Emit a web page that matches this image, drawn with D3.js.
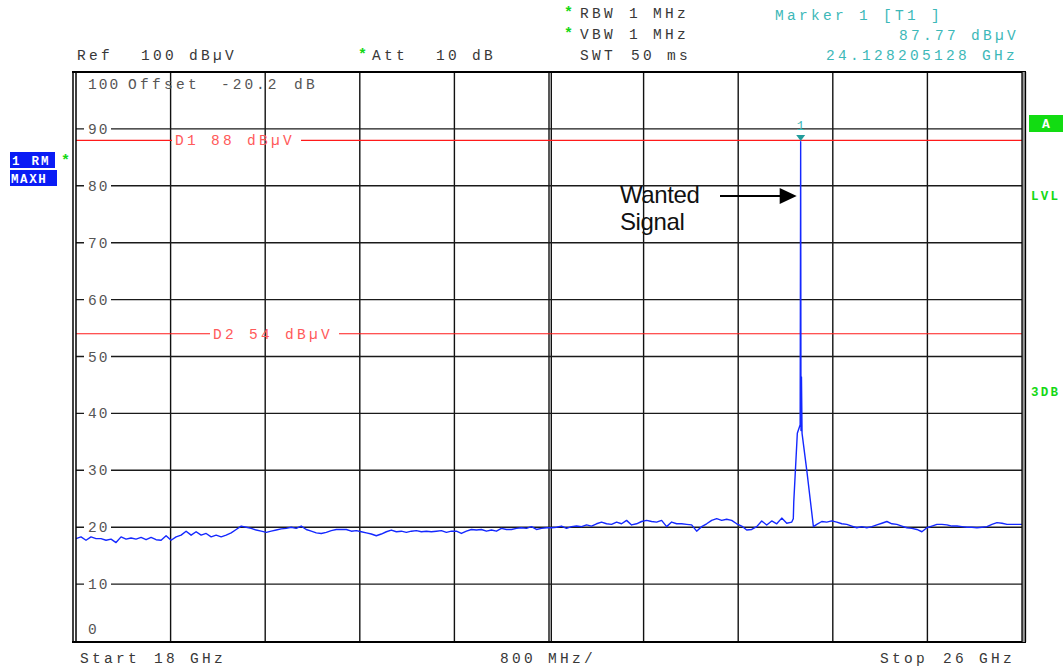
<!DOCTYPE html>
<html>
<head>
<meta charset="utf-8">
<script src="https://cdn.jsdelivr.net/npm/d3@7"></script>
<style>
  html, body { margin: 0; padding: 0; background: #fff; }
  svg { display: block; }
</style>
</head>
<body>
<div id="chart"></div>
<script>
// Spectrum analyser screenshot: 18–26 GHz sweep, max-hold trace, two display lines.

const sweepStartGHz = 18;
const sweepStopGHz = 26;
const freqDivGHz = 0.8;
const refLevel = 100;
const levelTicks = [0, 10, 20, 30, 40, 50, 60, 70, 80, 90];

const displayLineNames = ["D1", "D2"];
const displayLineLevels = [88, 54];

// max-hold noise floor, evenly spaced over the sweep (dBµV)
const noiseLevels = [
  18.0, 18.3, 17.7, 18.3, 18.0, 18.0, 17.7, 17.9, 17.3, 18.3,
  17.9, 18.1, 17.9, 18.2, 17.8, 18.2, 17.8, 17.7, 18.5, 17.7,
  18.3, 18.6, 19.3, 18.6, 19.2, 18.6, 18.9, 18.3, 18.6, 18.3,
  18.6, 19.0, 19.6, 20.2, 20.0, 19.8, 19.5, 19.3, 19.1, 19.3,
  19.5, 19.7, 19.8, 20.0, 19.8, 20.2, 19.6, 19.3, 19.0, 18.9,
  19.1, 19.4, 19.6, 19.6, 19.6, 19.3, 19.4, 19.2, 19.0, 18.8,
  18.5, 18.8, 19.2, 19.5, 19.2, 19.3, 19.1, 19.3, 19.4, 19.2,
  19.3, 19.2, 19.3, 19.4, 19.1, 19.3, 19.3, 18.9, 19.3, 19.6,
  19.5, 19.6, 19.3, 19.5, 19.3, 19.8, 19.6, 19.6, 19.8, 19.9,
  19.8, 20.1, 19.6, 19.8, 19.9, 19.9, 20.0, 20.2, 19.8, 20.1,
  20.2, 20.1, 20.4, 20.2, 20.6, 20.9, 20.6, 20.5, 20.9, 20.6,
  21.2, 20.4, 20.6, 21.0, 21.2, 21.0, 20.9, 21.2, 20.1, 20.9,
  20.6, 20.6, 20.5, 20.4, 19.3, 20.1, 20.6, 21.2, 21.5, 21.2,
  21.4, 21.2, 20.6, 20.2, 19.5, 19.6, 20.1, 21.1, 20.4, 21.1,
  20.6, 21.6, 20.7, 20.9, 21.0, 21.0, 20.8, 20.6, 20.5, 21.0,
  20.9, 21.1, 20.9, 20.6, 20.5, 20.2, 19.9, 20.1, 19.9, 20.1,
  20.4, 20.7, 21.0, 20.6, 20.5, 20.2, 19.9, 19.8, 19.6, 19.2,
  19.9, 20.2, 20.5, 20.5, 20.4, 20.2, 20.2, 20.1, 20.0, 20.0,
  19.9, 20.0, 20.1, 20.5, 20.8, 20.7, 20.5, 20.5, 20.5, 20.5
];

// the wanted signal, sampled finer than the floor
const peakFreqsGHz = [24.066, 24.070, 24.100, 24.124, 24.128205, 24.131, 24.135, 24.140, 24.180, 24.236];
const peakLevels   = [21.5,   24.5,   36.5,   38.0,   87.77,     37.0,   46.4,   36.5,   30.0,   20.1];

const markerFreqGHz = 24.128205128;
const markerLevel = 87.77;

const MONO = "'Liberation Mono', 'DejaVu Sans Mono', monospace";
const TEXT = "#383838";
const GREEN = "#14d814";
const RED = "#ff1a1a";
const TEAL = "#3db8b8";
const FS = 14.5, LS = 3.3;

const W = 1063, H = 670;
const P = { left: 76, right: 1022, top: 72, bottom: 641 };

const x = d3.scaleLinear().domain([sweepStartGHz, sweepStopGHz]).range([P.left, P.right]);
const y = d3.scaleLinear().domain([0, refLevel]).range([P.bottom, P.top]);

const svg = d3.select("#chart").append("svg")
  .attr("xmlns", "http://www.w3.org/2000/svg")
  .attr("width", W).attr("height", H)
  .attr("viewBox", `0 0 ${W} ${H}`);

svg.append("rect").attr("width", W).attr("height", H).attr("fill", "#fff");

function label(g, px, py, s, o = {}) {
  return g.append("text")
    .attr("x", px).attr("y", py)
    .attr("font-family", o.family || MONO)
    .attr("font-size", o.size || FS)
    .attr("font-weight", o.weight || null)
    .attr("letter-spacing", o.ls == null ? LS : o.ls)
    .attr("text-anchor", o.anchor || "start")
    .attr("fill", o.fill || TEXT)
    .attr("xml:space", "preserve")
    .text(s);
}

// grid
const gGrid = svg.append("g");
const freqTicks = d3.range(sweepStartGHz, sweepStopGHz + 1e-6, freqDivGHz);
gGrid.selectAll("line.v").data(freqTicks.slice(1, -1)).join("line")
  .attr("x1", d => x(d)).attr("x2", d => x(d))
  .attr("y1", P.top).attr("y2", P.bottom)
  .attr("stroke", "#111").attr("stroke-width", 1.4);
// centre division is drawn double
const xc = x((sweepStartGHz + sweepStopGHz) / 2);
gGrid.append("line").attr("x1", xc + 2.3).attr("x2", xc + 2.3)
  .attr("y1", P.top).attr("y2", P.bottom).attr("stroke", "#111").attr("stroke-width", 1.4);

gGrid.selectAll("line.h").data(levelTicks.filter(d => d > 0)).join("line")
  .attr("x1", P.left).attr("x2", P.right)
  .attr("y1", d => y(d)).attr("y2", d => y(d))
  .attr("stroke", "#1a1a1a").attr("stroke-width", 1.4);

// level labels sit inside the grid, breaking the line; 0 sits above the bottom edge
const gTick = svg.append("g");
for (const v of levelTicks) {
  if (v > 0) {
    gTick.append("rect").attr("x", 84).attr("y", y(v) - 6).attr("width", 27).attr("height", 12).attr("fill", "#fff");
    label(gTick, 88, y(v) + 5, String(v), { fill: "#555", ls: 2 });
  } else {
    label(gTick, 88, P.bottom - 7, String(v), { fill: "#555", ls: 2 });
  }
}
label(gTick, 88, 89, String(refLevel), { fill: "#555", ls: 2 });
label(gTick, 128, 89, "Offset", { fill: "#555" });
label(gTick, 221, 89, "-20.2", { fill: "#555", ls: 3 });
label(gTick, 294, 89, "dB", { fill: "#555" });

// display lines with labels in a gap
const gD = svg.append("g");
const dLabelX = [175, 213];
displayLineNames.forEach((name, i) => {
  const yy = y(displayLineLevels[i]);
  const t = label(gD, dLabelX[i], yy + 5, `${name} ${displayLineLevels[i]} dBµV`, { fill: "#ff5a5a" });
  const w = t.node().getComputedTextLength();
  gD.append("line").attr("x1", P.left).attr("x2", dLabelX[i] - 3)
    .attr("y1", yy).attr("y2", yy).attr("stroke", RED).attr("stroke-width", 1.2);
  gD.append("line").attr("x1", dLabelX[i] + w + 6).attr("x2", P.right)
    .attr("y1", yy).attr("y2", yy).attr("stroke", RED).attr("stroke-width", 1.2);
});

// trace
const stepGHz = (sweepStopGHz - sweepStartGHz) / (noiseLevels.length - 1);
const pkLo = peakFreqsGHz[0], pkHi = peakFreqsGHz[peakFreqsGHz.length - 1];
const trace = noiseLevels
  .map((v, i) => ({ f: sweepStartGHz + i * stepGHz, v }))
  .filter(d => d.f < pkLo || d.f > pkHi)
  .concat(peakFreqsGHz.map((f, i) => ({ f, v: peakLevels[i] })))
  .sort((a, b) => a.f - b.f);

svg.append("path")
  .datum(trace)
  .attr("fill", "none")
  .attr("stroke", "#1428ff")
  .attr("stroke-width", 1.4)
  .attr("stroke-linejoin", "round")
  .attr("d", d3.line().x(d => x(d.f)).y(d => y(d.v)));

// frame
const gF = svg.append("g").attr("fill", "none");
gF.append("line").attr("x1", 72).attr("x2", 1026).attr("y1", 72).attr("y2", 72).attr("stroke", "#000").attr("stroke-width", 2);
gF.append("line").attr("x1", 72).attr("x2", 1026).attr("y1", 642).attr("y2", 642).attr("stroke", "#000").attr("stroke-width", 2);
gF.append("line").attr("x1", 73).attr("x2", 73).attr("y1", 72).attr("y2", 642).attr("stroke", "#000").attr("stroke-width", 1.5);
gF.append("line").attr("x1", P.left).attr("x2", P.left).attr("y1", 72).attr("y2", 642).attr("stroke", "#000").attr("stroke-width", 1.5);
gF.append("rect").attr("x", 1022).attr("y", 72).attr("width", 3).attr("height", 570).attr("fill", "#9a9a9a");
gF.append("line").attr("x1", P.right).attr("x2", P.right).attr("y1", 72).attr("y2", 642).attr("stroke", "#000").attr("stroke-width", 1.3);
gF.append("line").attr("x1", 1025.5).attr("x2", 1025.5).attr("y1", 72).attr("y2", 642).attr("stroke", "#000").attr("stroke-width", 1.3);

// marker
const mx = x(markerFreqGHz), my = y(markerLevel);
svg.append("path")
  .attr("d", `M${mx - 4.5},${my - 6.5} L${mx + 4.5},${my - 6.5} L${mx},${my - 0.5} Z`)
  .attr("fill", "#229c9c");
label(svg, mx, my - 12, "1", { anchor: "middle", fill: TEAL, ls: 0, size: 13 });

// header
const gHead = svg.append("g");
function star(px, py) {
  label(gHead, px, py, "*", { fill: GREEN, ls: 0, size: 15, weight: "bold" });
}
label(gHead, 77, 60, "Ref");
label(gHead, 141, 60, "100 dBµV");
star(358, 59);
label(gHead, 372, 60, "Att");
label(gHead, 436, 60, "10 dB");

star(564, 17);
label(gHead, 580, 18, "RBW");
label(gHead, 629, 18, "1 MHz");
star(564, 38);
label(gHead, 580, 39, "VBW");
label(gHead, 629, 39, "1 MHz");
label(gHead, 580, 60, "SWT");
label(gHead, 631, 60, "50 ms");

label(gHead, 775, 20, "Marker 1 [T1 ]", { fill: TEAL });
label(gHead, 899, 40, "87.77 dBµV", { fill: TEAL });
label(gHead, 826, 60, "24.128205128 GHz", { fill: TEAL });

// footer
label(svg, 80, 663, "Start");
label(svg, 154, 663, "18 GHz");
label(svg, 500, 663, "800 MHz/");
label(svg, 880, 663, "Stop");
label(svg, 943, 663, "26 GHz");

// side badges
const gSide = svg.append("g");
gSide.append("rect").attr("x", 10).attr("y", 152).attr("width", 45).attr("height", 16).attr("fill", "#0a1cf5");
label(gSide, 12, 165, "1 RM", { fill: "#fff", size: 12.5, weight: "bold", ls: 2.2 });
gSide.append("rect").attr("x", 10).attr("y", 170).attr("width", 47).attr("height", 16).attr("fill", "#0a1cf5");
label(gSide, 11, 183, "MAXH", { fill: "#fff", size: 12.5, weight: "bold", ls: 1.6 });
label(gSide, 61, 165, "*", { fill: GREEN, ls: 0, size: 15, weight: "bold" });

gSide.append("rect").attr("x", 1029).attr("y", 115).attr("width", 34).attr("height", 17).attr("fill", "#12dc12");
label(gSide, 1046, 128, "A", { fill: "#fff", size: 13, weight: "bold", ls: 0, anchor: "middle" });
label(gSide, 1031, 200, "LVL", { fill: GREEN, size: 12.5, weight: "bold", ls: 2.2 });
label(gSide, 1031, 396, "3DB", { fill: GREEN, size: 12.5, weight: "bold", ls: 2.2 });

// annotation
const gAnn = svg.append("g");
label(gAnn, 620, 203, "Wanted", { family: "'Liberation Sans', Arial, sans-serif", size: 24, ls: -0.4, fill: "#111" });
label(gAnn, 620, 230, "Signal", { family: "'Liberation Sans', Arial, sans-serif", size: 24, ls: -0.4, fill: "#111" });
const ay = 196, tip = mx - 4;
gAnn.append("line").attr("x1", 720).attr("x2", tip - 14).attr("y1", ay).attr("y2", ay)
  .attr("stroke", "#000").attr("stroke-width", 2);
gAnn.append("path").attr("d", `M${tip - 17},${ay - 8} L${tip},${ay} L${tip - 17},${ay + 8} Z`).attr("fill", "#000");
</script>
</body>
</html>
